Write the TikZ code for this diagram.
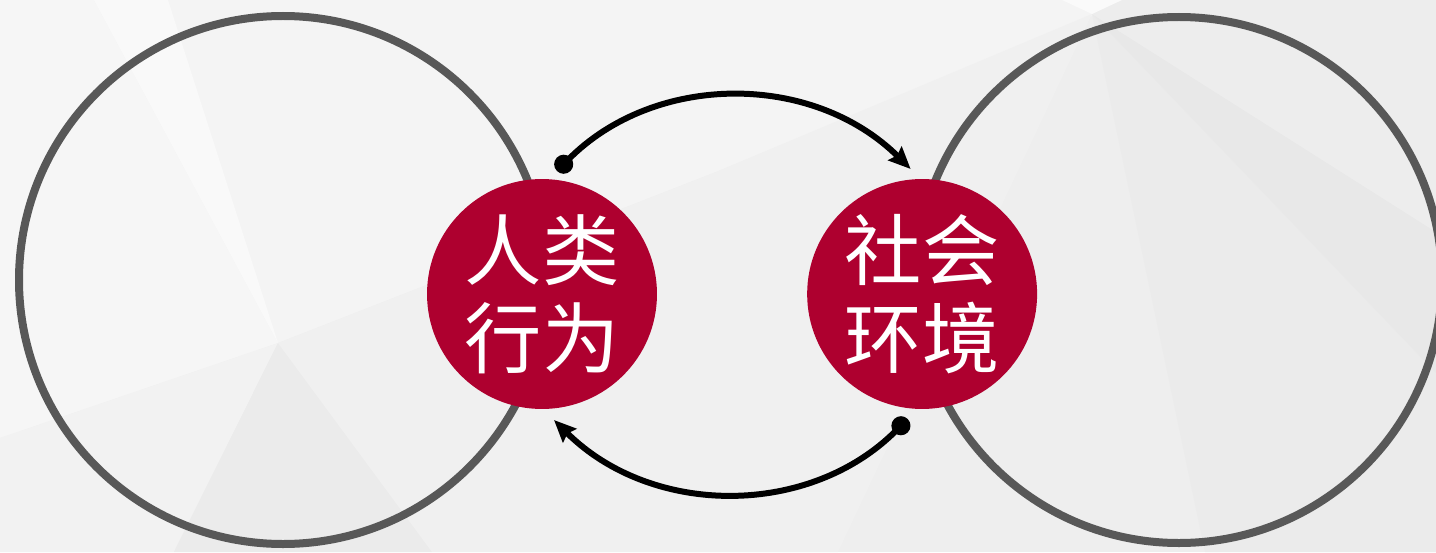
\documentclass[tikz,border=0pt]{standalone}
\usepackage{fontspec}
\setmainfont{Noto Sans CJK SC}
\usepackage{tikz}
\usetikzlibrary{calc,positioning,arrows.meta}
\definecolor{deepred}{HTML}{AE002F}
\definecolor{ringgray}{HTML}{585858}

\begin{document}
\begin{tikzpicture}[x=0.02cm,y=0.02cm,
		ring/.style={draw=ringgray,line width=0.16cm},
		hub/.style={shape=circle,fill=deepred,text=white,minimum size=4.6cm,inner sep=0pt,align=center,font=\fontsize{44}{50}\selectfont},
		link/.style={line width=0.12cm,{Circle[length=0.38cm]}-{Stealth[length=0.44cm,width=0.38cm,inset=0.06cm]}}]
		\useasboundingbox (0,0) rectangle (1436,552);
		\fill[black!6.5] (0,0) rectangle (1436,552);
		\fill[black!4.5] (0,552) -- (0,114) -- (278,209) -- (716,380) -- (1097,538) -- (1097,552) -- cycle;
		\fill[black!3.5] (0,552) -- (0,114) -- (278,209) -- (94,552) -- cycle;
		\fill[black!2.5] (94,552) -- (168,552) -- (278,209) -- cycle;
		\fill[black!5] (0,0) -- (0,114) -- (278,209) -- (174,0) -- cycle;
		\fill[black!8] (278,209) -- (174,0) -- (432,0) -- cycle;
		\fill[black!6] (1092,538) -- (838,0) -- (432,0) -- (278,209) -- (716,380) -- cycle;
		\fill[black!8] (1092,538) -- (1205,0) -- (1436,0) -- (1436,179) -- cycle;
		\fill[black!9] (1092,538) -- (1436,179) -- (1436,320) -- cycle;
		\fill[black!7] (1092,538) -- (1436,320) -- (1436,552) -- (1120,552) -- cycle;
		\fill[black!2] (1062,552) -- (1092,538) -- (1122,552) -- cycle;
		\draw[ring] (283,272) circle [radius=264];
		\draw[ring] (1179,272) circle [radius=263];
		\node(hb) [hub] at (542,258) {人类\\行为};
		\node(se) [hub,right=2.99cm of hb] {社会\\环境};
		\coordinate (a1) at ($(hb)+(15,123)$);
		\coordinate (a2) at ($(se)+(-11.5,125)$);
		\coordinate (b1) at ($(se)+(-14.5,-125)$);
		\coordinate (b2) at ($(hb)+(12,-126)$);
		\draw[link] (a1) to[bend left=45] (a2);
		\draw[link] (b1) to[bend left=45] (b2);
	\end{tikzpicture}
\end{document}
